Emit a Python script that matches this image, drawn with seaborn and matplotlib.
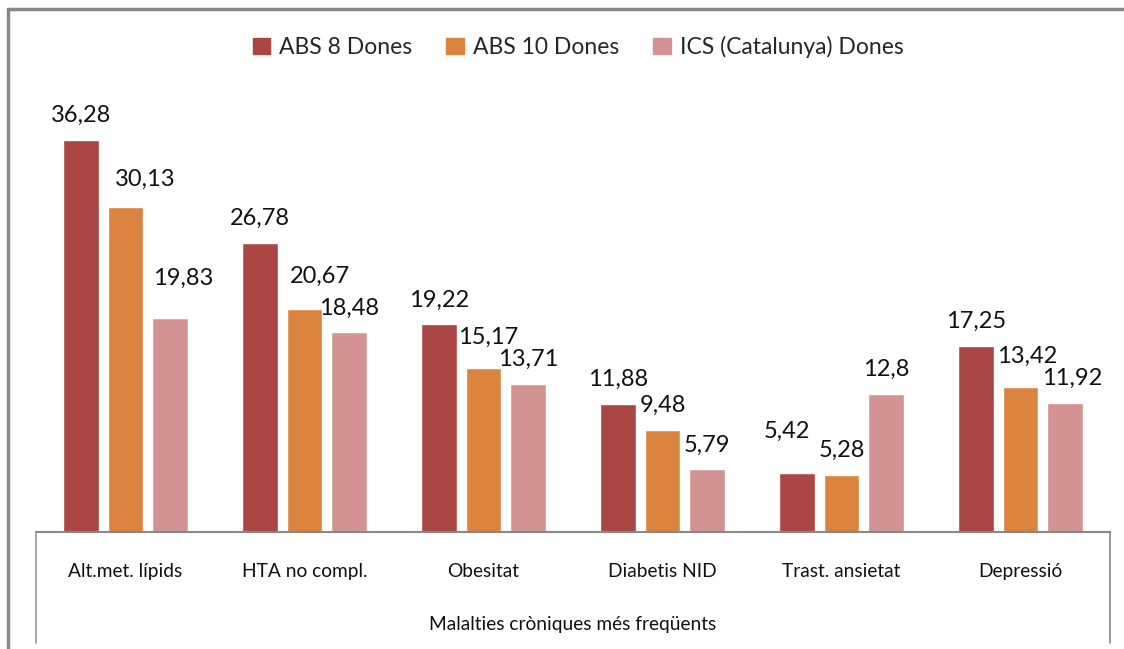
import numpy as np
import pandas as pd
import matplotlib
matplotlib.use("Agg")
import matplotlib.pyplot as plt
from matplotlib.lines import Line2D
import seaborn as sns

# data
categories = ["Alt.met. lípids", "HTA no compl.", "Obesitat", "Diabetis NID",
              "Trast. ansietat", "Depressió"]
series = ["ABS 8 Dones", "ABS 10 Dones", "ICS (Catalunya) Dones"]
abs8 = [36.28, 26.78, 19.22, 11.88, 5.42, 17.25]
abs10 = [30.13, 20.67, 15.17, 9.48, 5.28, 13.42]
ics = [19.83, 18.48, 13.71, 5.79, 12.8, 11.92]
colors = ["#AA4643", "#DB843F", "#D39393"]

# hand-moved labels in the original (pixel nudges: series idx, category idx)
label_nudge = {(1, 0): (20, 3), (2, 0): (13, 15), (1, 1): (15, 8),
               (1, 2): (5, 6), (0, 4): (-10, 18), (1, 5): (7, 6), (2, 5): (7, 0)}

df = pd.DataFrame({
    "cat": categories * 3,
    "serie": [series[0]] * 6 + [series[1]] * 6 + [series[2]] * 6,
    "val": abs8 + abs10 + ics,
})

sns.set_theme(style="white")
plt.rcParams["font.family"] = ["Lato", "DejaVu Sans"]

W, H = 1124, 649
fig = plt.figure(figsize=(W / 100, H / 100), dpi=100)
ax = fig.add_axes([36 / W, (H - 532) / H, 1074 / W, 432 / H])

sns.barplot(data=df, x="cat", y="val", hue="serie", order=categories,
            hue_order=series, palette=colors, width=0.75, gap=0.2,
            saturation=1, ax=ax, legend=False)

ax.set_xlim(-0.5, 5.5)
ax.set_ylim(0, 40)
ax.set_yticks([])
ax.set_ylabel("")
ax.set_xlabel("Malalties cròniques més freqüents", fontsize=13.8, color="#111111",
              labelpad=26)
ax.tick_params(axis="x", length=0, pad=22, labelsize=13.8, labelcolor="#111111")
for s in ["top", "left", "right"]:
    ax.spines[s].set_visible(False)
ax.spines["bottom"].set_color("#888888")
ax.spines["bottom"].set_linewidth(1.5)

# value labels with decimal comma
px = 0.72  # points per pixel at dpi 100
for si, cont in enumerate(ax.containers):
    for ci, bar in enumerate(cont):
        v = bar.get_height()
        txt = f"{v:g}".replace(".", ",")
        dx, dy = label_nudge.get((si, ci), (0, 0))
        ax.annotate(txt, (bar.get_x() + bar.get_width() / 2, v),
                    xytext=(dx * px, (18 + dy) * px), textcoords="offset points",
                    ha="center", va="baseline", fontsize=17, color="#111111")

# legend
handles = [plt.Rectangle((0, 0), 1, 1, color=c) for c in colors]
fig.legend(handles, series, loc="center", bbox_to_anchor=(578 / W, 1 - 47 / H),
           ncol=3, frameon=False, fontsize=16.5, handlelength=0.75,
           handleheight=0.75, handletextpad=0.4, columnspacing=1.5)

# table-like box below axis and outer frame
def fline(x0, y0, x1, y1, lw, col):
    fig.add_artist(Line2D([x0 / W, x1 / W], [1 - y0 / H, 1 - y1 / H],
                          color=col, lw=lw, transform=fig.transFigure))

fline(36, 532, 36, 643, 1.2, "#999999")
fline(1110, 532, 1110, 643, 1.2, "#888888")
fline(8, 9, 8, 649, 2.5, "#888888")
fline(8, 9, 1124, 9, 2.5, "#888888")

fig.savefig("out.png", dpi=100, facecolor="white")
